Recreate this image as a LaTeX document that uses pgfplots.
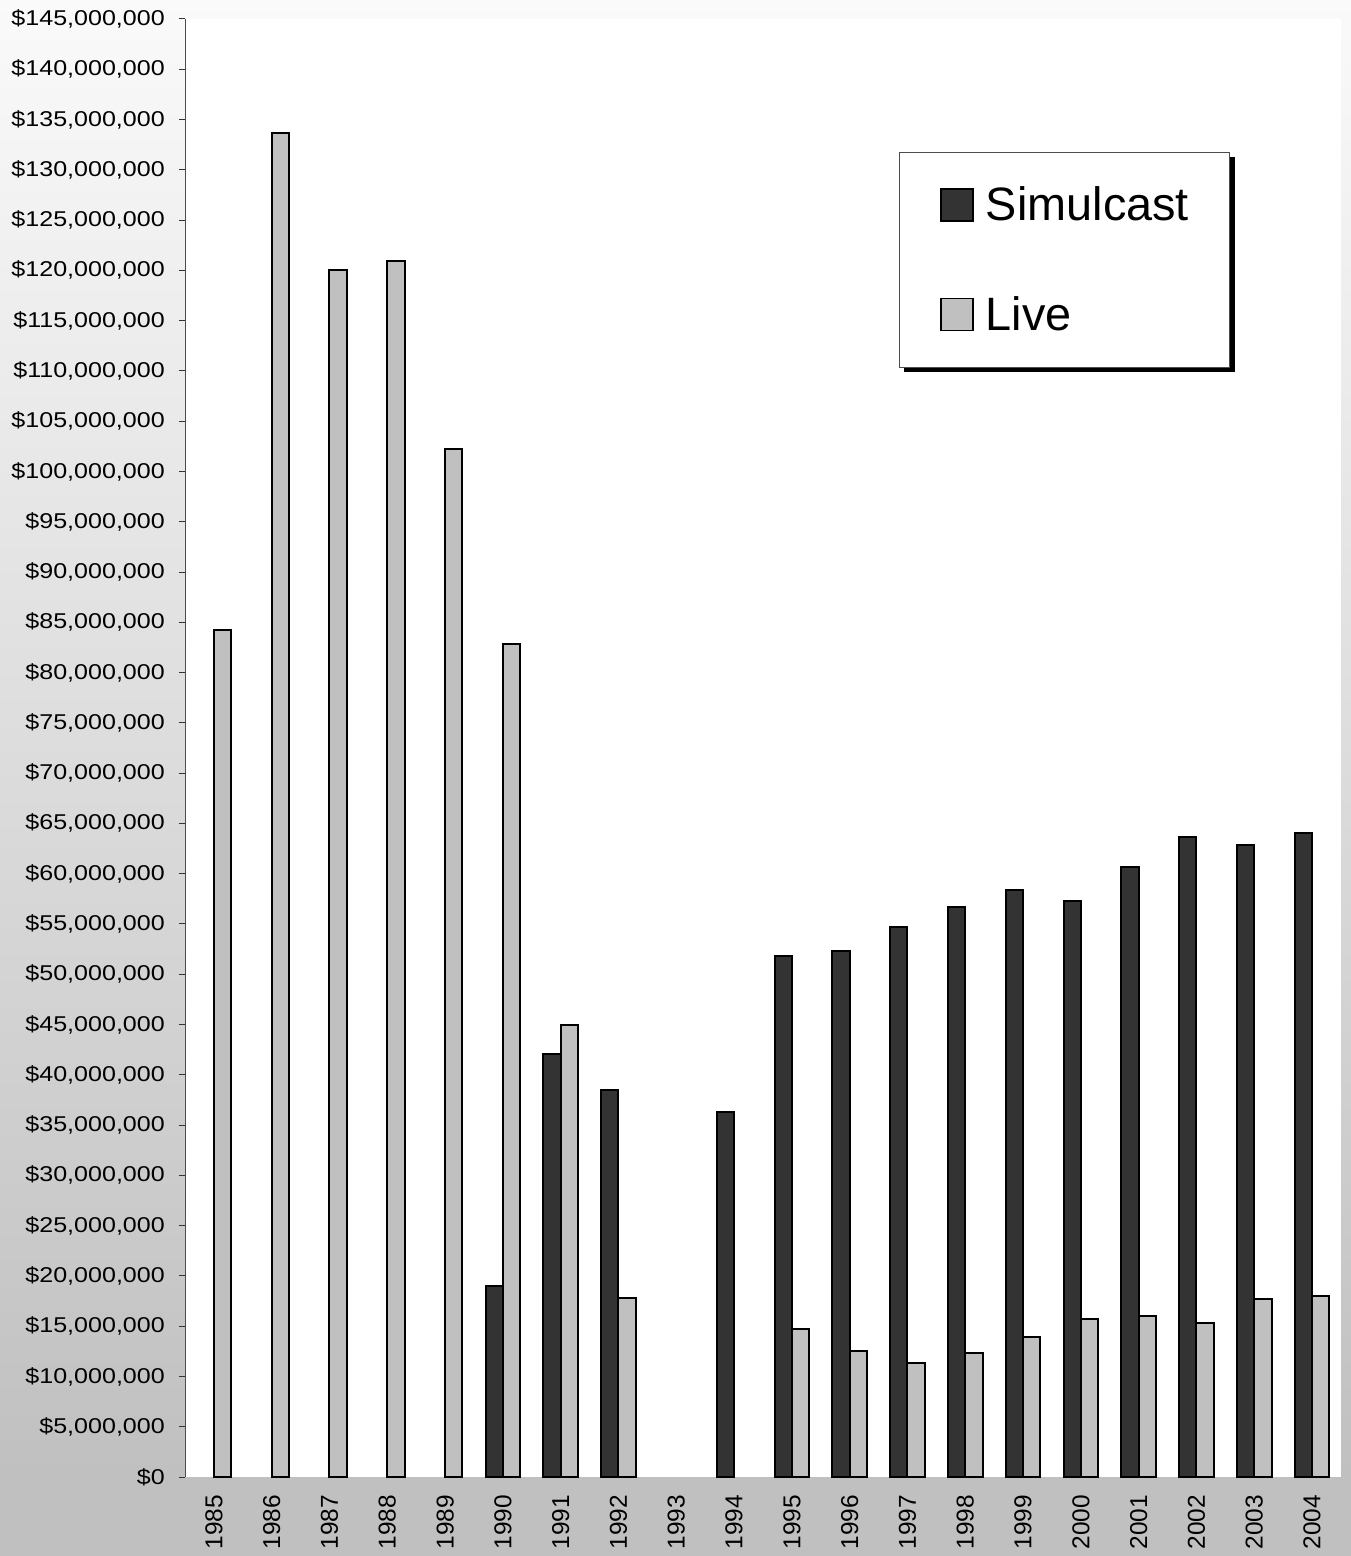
\documentclass[border=0pt]{standalone}
\usepackage{pgfplots}
\pgfplotsset{compat=1.18}
\usepackage{fontspec}
\setmainfont{Liberation Sans}
\newfontfamily\tickfont[FakeStretch=1.17]{Liberation Sans}
\usetikzlibrary{shadows}

\definecolor{simul}{RGB}{51,51,51}
\definecolor{live}{RGB}{192,192,192}
\definecolor{bgtop}{RGB}{250,250,250}
\definecolor{bgbot}{RGB}{192,192,192}

\makeatletter
\tikzset{no preactions/.code={\let\tikz@preactions\pgfutil@empty}}
\makeatother

\begin{document}
\begin{tikzpicture}
\fill[bgbot] (0,0) rectangle (1351bp,79bp);
\shade[top color=bgtop, bottom color=bgbot] (0,79bp) rectangle (1351bp,1556bp);
\begin{axis}[
    at={(185bp,79bp)}, anchor=south west,
    scale only axis,
    width=1156bp, height=1458bp,
    clip=false,
    axis background/.style={fill=white},
    ybar=0pt, bar width=17.3bp,
    xmin=-0.5, xmax=19.5,
    ymin=0, ymax=145000000,
    ytick distance=5000000,
    scaled y ticks=false,
    xtick={0,...,19},
    xticklabels={1985,1986,1987,1988,1989,1990,1991,1992,1993,1994,1995,1996,1997,1998,1999,2000,2001,2002,2003,2004},
    axis lines*=left,
    x axis line style={draw=none},
    y axis line style={-, draw=black!70, line width=1bp},
    xtick style={draw=none},
    ytick style={draw=black!80, line width=1bp},
    tick align=outside,
    major tick length=6bp,
    /pgf/number format/assume math mode=true,
    yticklabel={\$\pgfmathprintnumber[fixed, precision=0, 1000 sep={,}]{\tick}},
    yticklabel style={inner sep=0pt, xshift=-14bp, font=\tickfont\fontsize{21.5}{24}\selectfont},
    xticklabel style={rotate=90, anchor=east, inner sep=0pt, xshift=-12bp, font=\fontsize{24.5}{27}\selectfont},
    legend style={
        at={(rel axis cs:0.6176,0.909)}, anchor=north west,
        font=\fontsize{47}{50}\selectfont,
        draw=black!70, line width=1bp, fill=white,
        drop shadow={shadow xshift=5bp, shadow yshift=-5bp, fill=black, opacity=1},
        inner xsep=41bp, inner ysep=36bp,
        row sep=76bp, column sep=12bp,
        nodes={inner sep=0pt, text height=32bp, text depth=0bp},
    },
    legend cell align=left,
    legend image code/.code={\draw[no preactions, #1, line width=1.5bp] (0bp,-16bp) rectangle (32bp,16bp);},
]
% Simulcast
\addplot[draw=black, line width=2bp, fill=simul] coordinates {
    (5,19.0e6) (6,42.1e6) (7,38.5e6) (9,36.3e6)
    (10,51.8e6) (11,52.3e6) (12,54.7e6) (13,56.7e6) (14,58.4e6)
    (15,57.3e6) (16,60.7e6) (17,63.6e6) (18,62.9e6) (19,64.0e6)
};
% Live
\addplot[draw=black, line width=2bp, fill=live] coordinates {
    (0,84.2e6) (1,133.7e6) (2,120.0e6) (3,120.9e6) (4,102.2e6)
    (5,82.8e6) (6,45.0e6) (7,17.8e6)
    (10,14.7e6) (11,12.5e6) (12,11.3e6) (13,12.3e6) (14,13.9e6)
    (15,15.7e6) (16,16.0e6) (17,15.3e6) (18,17.7e6) (19,18.0e6)
};
\legend{Simulcast, Live}
\end{axis}
\pgfresetboundingbox
\path (0,0) rectangle (1351bp,1556bp);
\end{tikzpicture}
\end{document}
